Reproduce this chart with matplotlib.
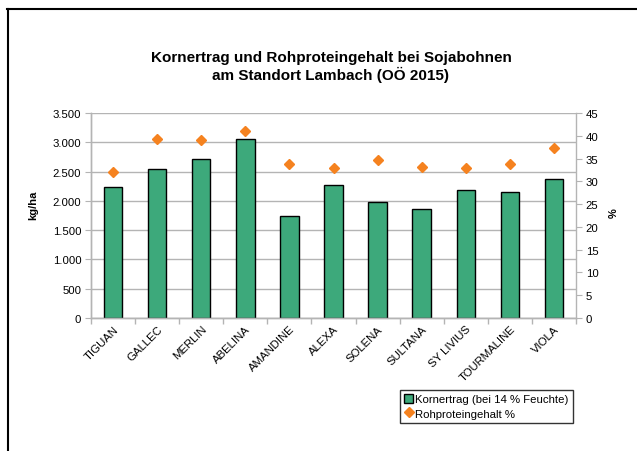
import matplotlib
matplotlib.use("Agg")
import matplotlib.pyplot as plt
from matplotlib.lines import Line2D
from matplotlib.patches import Patch
from matplotlib.ticker import FuncFormatter, MultipleLocator

plt.rcParams["font.family"] = ["Liberation Sans", "DejaVu Sans"]

# values
sorten = ["TIGUAN", "GALLEC", "MERLIN", "ABELINA", "AMANDINE", "ALEXA",
          "SOLENA", "SULTANA", "SY LIVIUS", "TOURMALINE", "VIOLA"]
kornertrag = [2230, 2540, 2720, 3050, 1735, 2275, 1985, 1865, 2185, 2145, 2380]
rohprotein = [32.0, 39.3, 39.1, 41.0, 33.7, 32.9, 34.6, 33.2, 32.9, 33.9, 37.3]

BAR_COLOR = "#3DA97B"
DOT_COLOR = "#F5821F"
GRID = "#B4B4B4"

fig = plt.figure(figsize=(6.37, 4.52), dpi=100)
ax = fig.add_axes([91 / 637, 1 - 319 / 452, 485 / 637, 205 / 452])
ax2 = ax.twinx()

x = list(range(len(sorten)))
ax.bar(x, kornertrag, width=0.417, color=BAR_COLOR, edgecolor="black",
       linewidth=1.0, zorder=3)
ax2.plot(x, rohprotein, linestyle="none", marker="D", markersize=5,
         color=DOT_COLOR, markeredgecolor=DOT_COLOR, zorder=4)

ax.set_xlim(-0.5, len(sorten) - 0.5)
ax.set_ylim(0, 3500)
ax2.set_ylim(0, 45)
ax.yaxis.set_major_locator(MultipleLocator(500))
ax2.yaxis.set_major_locator(MultipleLocator(5))
ax.yaxis.set_major_formatter(
    FuncFormatter(lambda v, _: f"{int(v):,}".replace(",", ".")))

ax.grid(axis="y", color=GRID, linewidth=1.0, zorder=0)
ax.set_axisbelow(True)

ax.set_xticks(x)
ax.set_xticklabels(sorten, rotation=45, ha="right", rotation_mode="anchor",
                   fontsize=8.2)
ax.set_xticks([i - 0.5 for i in range(len(sorten) + 1)], minor=True)
ax.tick_params(axis="x", which="major", length=0, pad=4)
ax.tick_params(axis="x", which="minor", length=4, color=GRID, width=1)
ax.tick_params(axis="y", length=4, color=GRID, labelsize=8.2, pad=3)
ax2.tick_params(axis="y", length=4, color=GRID, labelsize=8.2, pad=3)

for a in (ax, ax2):
    a.spines["top"].set_visible(False)
    for s in ("left", "right", "bottom"):
        a.spines[s].set_color(GRID)
        a.spines[s].set_linewidth(1.0)
ax.spines["right"].set_visible(False)

fig.text(33 / 637, 1 - 205 / 452, "kg/ha", rotation=90, fontsize=8,
         fontweight="bold", ha="center", va="center")
fig.text(614 / 637, 1 - 213 / 452, "%", rotation=90, fontsize=8,
         fontweight="bold", ha="center", va="center")

fig.text(331 / 637, 1 - 67 / 452,
         "Kornertrag und Rohproteingehalt bei Sojabohnen\n"
         "am Standort Lambach (OÖ 2015)",
         fontsize=11, fontweight="bold", ha="center", va="center",
         linespacing=1.15)

handles = [
    Patch(facecolor=BAR_COLOR, edgecolor="black", linewidth=1.0,
          label="Kornertrag (bei 14 % Feuchte)"),
    Line2D([], [], linestyle="none", marker="D", markersize=5,
           color=DOT_COLOR, label="Rohproteingehalt %"),
]
leg = fig.legend(handles=handles, loc="upper left",
                 bbox_to_anchor=(400 / 637, 1 - 391 / 452), fontsize=8.2,
                 frameon=True, fancybox=False, borderpad=0.35,
                 handlelength=0.8, handleheight=0.8, handletextpad=0.2,
                 labelspacing=0.35, borderaxespad=0)
leg.get_frame().set_edgecolor("black")
leg.get_frame().set_linewidth(1.0)

# outer chart border (only left and top visible in the reference)
fig.add_artist(Line2D([7.5 / 637, 7.5 / 637], [0, 1 - 10 / 452],
                      transform=fig.transFigure, color="black", linewidth=1.5))
fig.add_artist(Line2D([7 / 637, 1], [1 - 10 / 452, 1 - 10 / 452],
                      transform=fig.transFigure, color="black", linewidth=1.5))

fig.savefig("out.png", dpi=100)
